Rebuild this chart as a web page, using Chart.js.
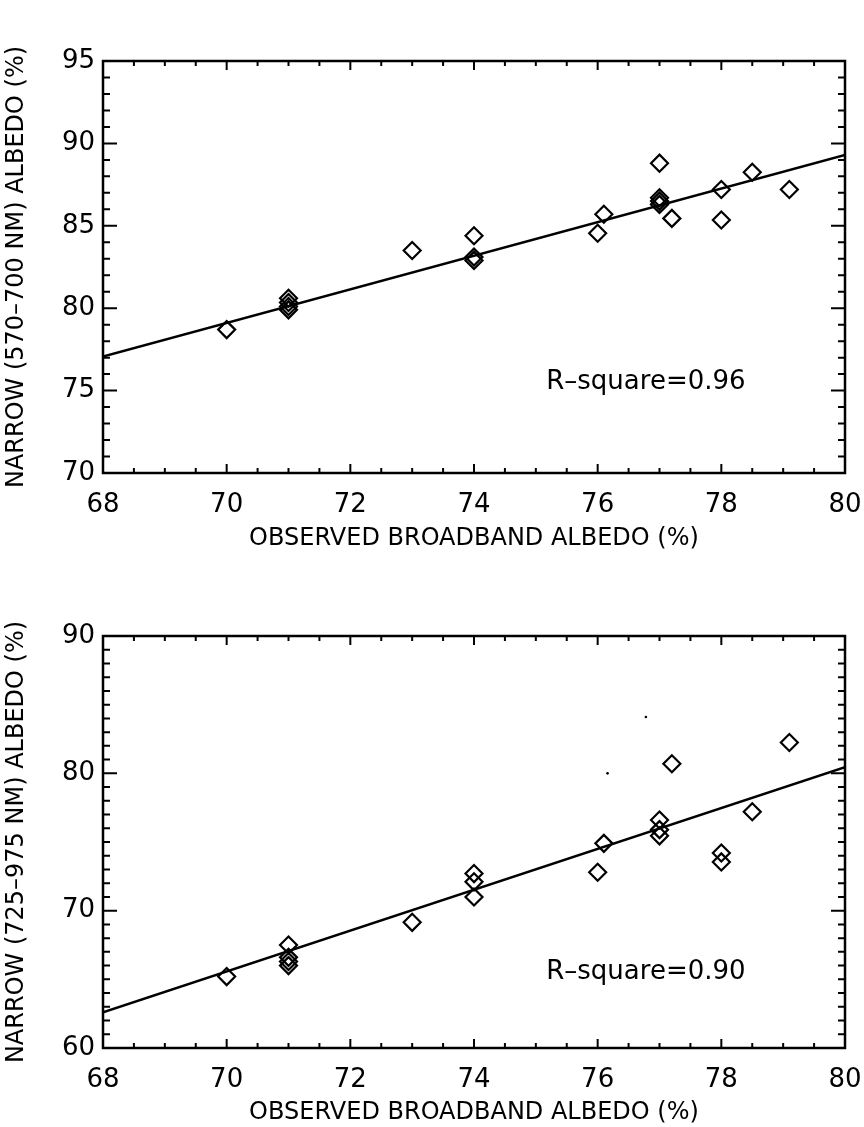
<!DOCTYPE html>
<html>
<head>
<meta charset="utf-8">
<script src="https://cdn.jsdelivr.net/npm/chart.js@4.4.0/dist/chart.umd.min.js"></script>
<style>
  html, body { margin: 0; padding: 0; background: #fff; }
  #wrap { position: relative; width: 864px; height: 1127px; }
  .c { position: absolute; left: 0; }
</style>
</head>
<body>
<div id="wrap">
  <canvas id="top" class="c" style="top:0px" width="864" height="563"></canvas>
  <canvas id="bot" class="c" style="top:563px" width="864" height="564"></canvas>
</div>
<script>
// ---------- data ----------
const xTickValues = [68, 70, 72, 74, 76, 78, 80];
const xTitle = 'OBSERVED BROADBAND ALBEDO (%)';

// Top panel (570-700 nm)
const topTitleY = 'NARROW (570\u2013700 NM) ALBEDO (%)';
const topX = [70, 71, 71, 71, 71, 73, 74, 74, 74, 76, 76.1, 77, 77, 77, 77, 77.2, 78, 78, 78.5, 79.1];
const topY = [78.7, 80.6, 80.35, 80.1, 79.9, 83.5, 84.4, 83.1, 82.9, 84.55, 85.7, 88.8, 86.7, 86.5, 86.3, 85.45, 87.2, 85.35, 88.25, 87.2];
const topFitX = [68, 80];
const topFitY = [77.06, 89.3];
const topR2 = 'R\u2013square=0.96';
const topR2Pos = [76.78, 75.5];

// Bottom panel (725-975 nm)
const botTitleY = 'NARROW (725\u2013975 NM) ALBEDO (%)';
const botX = [70, 71, 71, 71, 71, 73, 74, 74, 74, 76, 76.1, 77, 77, 77, 77.2, 78, 78, 78.5, 79.1];
const botY = [65.2, 67.5, 66.6, 66.3, 66.0, 69.15, 72.7, 72.1, 71.0, 72.8, 74.9, 76.6, 75.9, 75.45, 80.7, 74.2, 73.55, 77.2, 82.25];
const botFitX = [68, 80];
const botFitY = [62.6, 80.45];
const botSpeckX = [76.78, 76.16];
const botSpeckY = [84.1, 80.0];
const botR2 = 'R\u2013square=0.90';
const botR2Pos = [76.78, 65.5];

const FONT = 'DejaVu Sans';

// ---------- plugin: frame, inward ticks, annotation ----------
const framePlugin = {
  id: 'frame',
  afterDatasetsDraw(chart, args, opts) {
    const ctx = chart.ctx, a = chart.chartArea;
    const xs = chart.scales.x, ys = chart.scales.y;
    ctx.save();
    ctx.strokeStyle = '#000';
    ctx.lineWidth = 2.5;
    ctx.strokeRect(a.left, a.top, a.right - a.left, a.bottom - a.top);
    ctx.lineWidth = 2;
    ctx.beginPath();
    for (let v = xs.min; v <= xs.max + 1e-9; v += 0.5) {
      const px = xs.getPixelForValue(v);
      const major = Math.abs(v / 2 - Math.round(v / 2)) < 1e-6;
      const L = major ? 9 : 5;
      ctx.moveTo(px, a.bottom); ctx.lineTo(px, a.bottom - L);
      ctx.moveTo(px, a.top); ctx.lineTo(px, a.top + L);
    }
    for (let v = ys.min; v <= ys.max + 1e-9; v += opts.yMinor) {
      const py = ys.getPixelForValue(v);
      const major = Math.abs(v / opts.yMajor - Math.round(v / opts.yMajor)) < 1e-6;
      const L = major ? 14 : 7;
      ctx.moveTo(a.left, py); ctx.lineTo(a.left + L, py);
      ctx.moveTo(a.right, py); ctx.lineTo(a.right - L, py);
    }
    ctx.stroke();
    ctx.fillStyle = '#000';
    ctx.font = '26px "' + FONT + '"';
    ctx.textAlign = 'center';
    ctx.textBaseline = 'middle';
    ctx.fillText(opts.text, xs.getPixelForValue(opts.pos[0]), ys.getPixelForValue(opts.pos[1]));
    ctx.restore();
  }
};

function pts(xa, ya) { return xa.map((x, i) => ({ x: x, y: ya[i] })); }

function makeChart(id, cfg) {
  return new Chart(document.getElementById(id), {
    type: 'scatter',
    data: {
      datasets: [
        {
          data: pts(cfg.fitX, cfg.fitY), showLine: true, pointRadius: 0,
          borderColor: '#000', borderWidth: 2.5, order: 2
        },
        {
          data: pts(cfg.x, cfg.y), pointStyle: 'rectRot', pointRadius: 8.5,
          pointBorderColor: '#000', pointBackgroundColor: 'rgba(255,255,255,0)',
          pointBorderWidth: 2.2, showLine: false, order: 1
        },
        {
          data: pts(cfg.speckX || [], cfg.speckY || []), pointStyle: 'circle', pointRadius: 1.3,
          pointBorderWidth: 0, pointBackgroundColor: '#000', showLine: false, order: 0
        }
      ]
    },
    options: {
      responsive: false,
      animation: false,
      events: [],
      layout: { padding: { top: cfg.padTop, right: 19, left: 0, bottom: cfg.padBottom } },
      plugins: {
        legend: { display: false },
        tooltip: { enabled: false },
        frame: { yMinor: 1, yMajor: cfg.yStep, text: cfg.r2, pos: cfg.r2Pos }
      },
      scales: {
        x: {
          type: 'linear', min: 68, max: 80,
          afterBuildTicks: s => { s.ticks = xTickValues.map(v => ({ value: v })); },
          grid: { display: false, drawTicks: false },
          border: { display: false },
          ticks: { color: '#000', font: { family: FONT, size: 26 }, padding: 17 },
          title: { display: true, text: xTitle, color: '#000', font: { family: FONT, size: 24 }, padding: { top: 2, bottom: 0 } },
          afterFit: s => { s.height = cfg.xH; s.paddingLeft = 0; s.paddingRight = 0; }
        },
        y: {
          type: 'linear', min: cfg.yMin, max: cfg.yMax,
          ticks: { stepSize: cfg.yStep, color: '#000', font: { family: FONT, size: 26 }, padding: 8 },
          grid: { display: false, drawTicks: false },
          border: { display: false },
          title: { display: true, text: cfg.yTitle, color: '#000', font: { family: FONT, size: 24 }, padding: { top: 2, bottom: 0 } },
          afterFit: s => { s.width = 103; s.paddingTop = 0; s.paddingBottom = 0; }
        }
      }
    },
    plugins: [framePlugin]
  });
}

makeChart('top', {
  x: topX, y: topY, fitX: topFitX, fitY: topFitY,
  yMin: 70, yMax: 95, yStep: 5, yTitle: topTitleY,
  r2: topR2, r2Pos: topR2Pos, padTop: 61, padBottom: 10, xH: 80
});
makeChart('bot', {
  x: botX, y: botY, fitX: botFitX, fitY: botFitY, speckX: botSpeckX, speckY: botSpeckY,
  yMin: 60, yMax: 90, yStep: 10, yTitle: botTitleY,
  r2: botR2, r2Pos: botR2Pos, padTop: 73, padBottom: 0, xH: 79
});
</script>
</body>
</html>
